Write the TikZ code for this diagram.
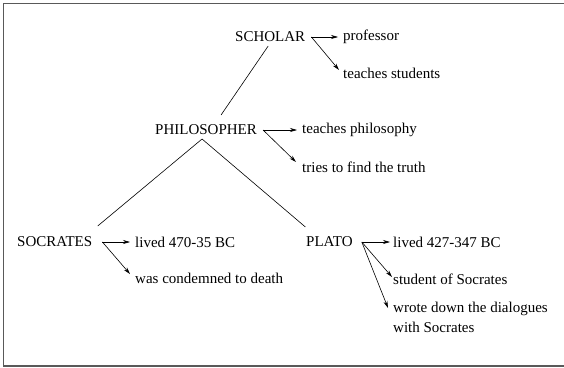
\documentclass[tikz,border=0pt]{standalone}
\usepackage{fontspec}
\setmainfont{Liberation Serif}
\usetikzlibrary{arrows.meta}
\begin{document}
\begin{tikzpicture}[x=1pt,y=-1pt,
  txt/.style={anchor=west,inner sep=0pt,font=\fontsize{15}{20}\selectfont,align=left},
  rel/.style={-{Stealth[length=7pt,width=4pt]},line width=0.6pt},
  link/.style={line width=0.6pt}]
\useasboundingbox (0,0) rectangle (564,367);
\draw[line width=1.2pt,gray!70!black] (565,3.5) -- (3.5,3.5) -- (3.5,366) -- (565,366);

\node[txt] (sch) at (235,37) {SCHOLAR};
\node[txt] (prof) at (343,37) {professor};
\node[txt] (teach) at (343,73) {teaches students};

\node[txt] (phil) at (155,130) {PHILOSOPHER};
\node[txt] (tphil) at (302,130) {teaches philosophy};
\node[txt] (truth) at (302,167) {tries to find the truth};

\node[txt] (soc) at (17,242) {SOCRATES};
\node[txt] (l1) at (135,242) {lived 470-35 BC};
\node[txt] (cond) at (135,278) {was condemned to death};

\node[txt] (pla) at (306,242) {PLATO};
\node[txt] (l2) at (393,242) {lived 427-347 BC};
\node[txt] (stud) at (393,279) {student of Socrates};
\node[txt,anchor=north west] (dial) at (393,302) {wrote down the dialogues\\with Socrates};

\draw[link] ([xshift=-2pt,yshift=-9pt]sch.center) -- ([xshift=15pt,yshift=15pt]phil.center);
\draw[link] ([xshift=-4pt,yshift=-9pt]phil.center) -- ([xshift=43pt,yshift=16pt]soc.center);
\draw[link] ([xshift=-4pt,yshift=-9pt]phil.center) -- ([xshift=-24pt,yshift=15pt]pla.center);

\coordinate (sa) at ([xshift=6pt]sch.east);
\draw[rel] (sa) -- ([xshift=-5pt]prof.west);
\draw[rel] (sa) -- ([xshift=-4pt,yshift=3pt]teach.west);

\coordinate (pa) at ([xshift=6pt]phil.east);
\draw[rel] (pa) -- ([xshift=-5pt]tphil.west);
\draw[rel] (pa) -- ([xshift=-6pt,yshift=5pt]truth.west);

\coordinate (ca) at ([xshift=10pt]soc.east);
\draw[rel] (ca) -- ([xshift=-5pt]l1.west);
\draw[rel] (ca) -- ([xshift=-5pt,yshift=4pt]cond.west);

\coordinate (la) at ([xshift=9pt]pla.east);
\draw[rel] (la) -- ([xshift=-3pt]l2.west);
\draw[rel] (la) -- ([xshift=-1pt,yshift=2pt]stud.west);
\draw[rel] (la) -- ([xshift=-5pt,yshift=-6pt]dial.north west);
\end{tikzpicture}
\end{document}
